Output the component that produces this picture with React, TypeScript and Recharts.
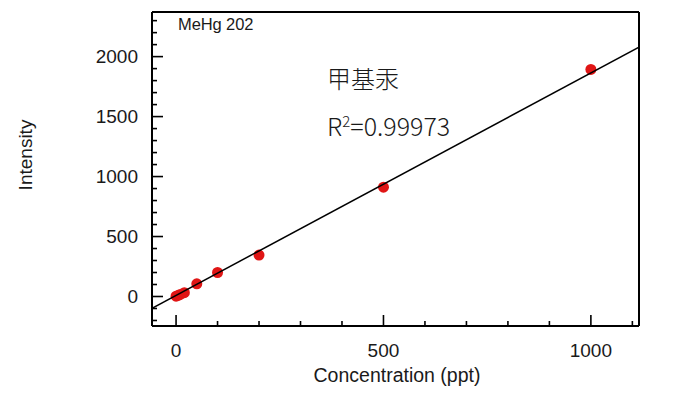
import React from "react";
import { ScatterChart, Scatter, XAxis, YAxis } from "recharts";

// calibration standards
const concentrations = [0, 5, 10, 20, 50, 100, 200, 500, 1000];
const intensities = [3, 9, 17, 32, 106, 200, 345, 911, 1893];

// fitted line, read at the two edges of the plot
const fitX = [-58, 1116];
const fitY = [-98, 2078];

const xTicks = [0, 100, 200, 300, 400, 500, 600, 700, 800, 900, 1000, 1100];
const yTicks = [-200, -100, 0, 100, 200, 300, 400, 500, 600, 700, 800, 900, 1000, 1100, 1200, 1300, 1400, 1500, 1600, 1700, 1800, 1900, 2000, 2100, 2200, 2300];

const title = "MeHg 202";
const compound = "甲基汞";
const rSquared = "0.99973";

const points = concentrations.map((c, i) => ({ x: c, y: intensities[i] }));
const fitLine = fitX.map((x, i) => ({ x, y: fitY[i] }));

const FONT = '"Liberation Sans", Arial, sans-serif';
const TEXT = "#1a1a1a";

function YTick(props: any) {
  const { x, y, payload } = props;
  const major = payload.value % 500 === 0;
  return (
    <g>
      <line x1={x} x2={x + (major ? 11 : 5)} y1={y} y2={y} stroke="#000" strokeWidth={1.6} />
      {major && (
        <text x={x - 14} y={y} dy={6.5} textAnchor="end" fontFamily={FONT} fontSize={19} fill={TEXT}>
          {payload.value}
        </text>
      )}
    </g>
  );
}

function XTick(props: any) {
  const { x, y, payload } = props;
  const major = payload.value % 500 === 0;
  return (
    <g>
      <line x1={x} x2={x} y1={y} y2={y - (major ? 11 : 5)} stroke="#000" strokeWidth={1.6} />
      {major && (
        <text x={x} y={y + 24} dy={6.5} textAnchor="middle" fontFamily={FONT} fontSize={19} fill={TEXT}>
          {payload.value}
        </text>
      )}
    </g>
  );
}

export default function App() {
  return (
    <div style={{ position: "absolute", left: 0, top: 0, width: 700, height: 399, background: "#fff" }}>
      <ScatterChart width={700} height={399} margin={{ top: 11, right: 60, bottom: 33, left: 92 }}>
        <XAxis
          type="number"
          dataKey="x"
          xAxisId="b"
          domain={[-58, 1116]}
          ticks={xTicks}
          interval={0}
          allowDataOverflow
          height={40}
          tickSize={0}
          tickMargin={0}
          tickLine={false}
          axisLine={{ stroke: "#000", strokeWidth: 2 }}
          tick={<XTick />}
        />
        <XAxis
          type="number"
          dataKey="x"
          xAxisId="t"
          orientation="top"
          domain={[-58, 1116]}
          allowDataOverflow
          height={1}
          tick={false}
          tickLine={false}
          axisLine={{ stroke: "#000", strokeWidth: 2 }}
        />
        <YAxis
          type="number"
          dataKey="y"
          yAxisId="l"
          domain={[-246, 2372]}
          ticks={yTicks}
          interval={0}
          allowDataOverflow
          width={60}
          tickSize={0}
          tickMargin={0}
          tickLine={false}
          axisLine={{ stroke: "#000", strokeWidth: 2 }}
          tick={<YTick />}
        />
        <YAxis
          type="number"
          dataKey="y"
          yAxisId="r"
          orientation="right"
          domain={[-246, 2372]}
          allowDataOverflow
          width={1}
          tick={false}
          tickLine={false}
          axisLine={{ stroke: "#000", strokeWidth: 2 }}
        />
        <Scatter
          data={points}
          xAxisId="b"
          yAxisId="l"
          isAnimationActive={false}
          shape={(p: any) => <circle cx={p.cx} cy={p.cy} r={5.5} fill="#e01515" />}
        />
        <Scatter
          data={fitLine}
          xAxisId="b"
          yAxisId="l"
          isAnimationActive={false}
          line={{ stroke: "#000", strokeWidth: 1.5 }}
          shape={() => <g />}
        />
      </ScatterChart>

      <div style={{ position: "absolute", left: 178, top: 14, fontFamily: FONT, fontSize: 16.5, color: TEXT, lineHeight: "20px", letterSpacing: -0.1 }}>
        {title}
      </div>
      <div style={{ position: "absolute", left: 327, top: 62, fontFamily: '"Noto Sans CJK SC", sans-serif', fontWeight: 300, fontSize: 24, color: TEXT, lineHeight: "32px" }}>
        {compound}
      </div>
      <div style={{ position: "absolute", left: 327, top: 109, fontFamily: '"Noto Sans CJK SC", sans-serif', fontWeight: 300, fontSize: 25, color: TEXT, lineHeight: "32px" }}>
        R<sup style={{ fontSize: 15, verticalAlign: 9, lineHeight: 0 }}>2</sup>={rSquared}
      </div>
      <div style={{ position: "absolute", left: 26, top: 155, transform: "translate(-50%, -50%) rotate(-90deg)", fontFamily: FONT, fontSize: 19, color: TEXT, whiteSpace: "nowrap", lineHeight: "22px" }}>
        Intensity
      </div>
      <div style={{ position: "absolute", left: 397, top: 375, transform: "translate(-50%, -50%)", fontFamily: FONT, fontSize: 19.5, color: TEXT, whiteSpace: "nowrap", lineHeight: "22px" }}>
        Concentration (ppt)
      </div>
    </div>
  );
}
